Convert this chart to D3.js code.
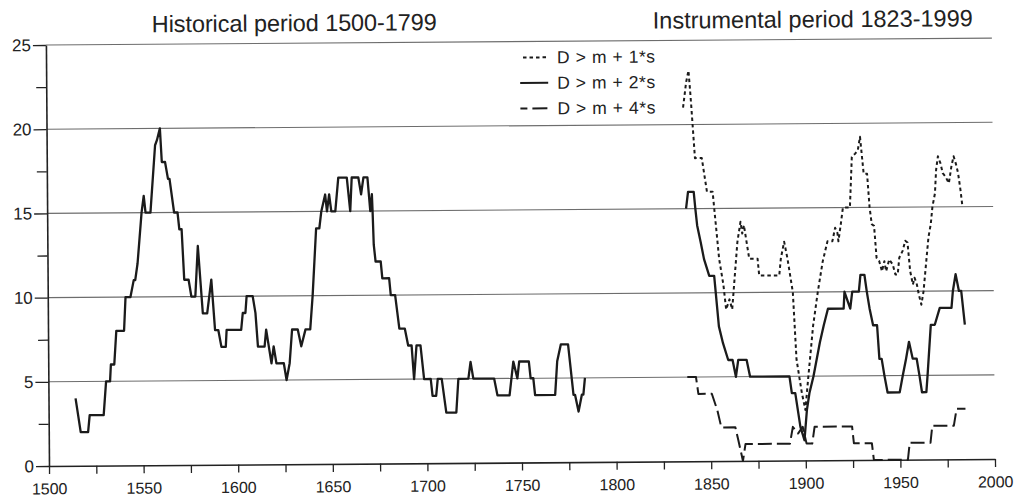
<!DOCTYPE html>
<html>
<head>
<meta charset="utf-8">
<script src="https://d3js.org/d3.v7.min.js"></script>
<style>
body { margin: 0; background: #fff; }
svg text { font-family: "Liberation Sans", Arial, Helvetica, sans-serif; fill: #222; }
</style>
</head>
<body>
<div id="chart"></div>
<script>
var width = 1016;
var height = 498;

// Historical period, D > m + 2*s
var histYears = [1514.3, 1516.9, 1520.8, 1521.7, 1529.1, 1530.5, 1532.6, 1533.1, 1534.9, 1536.1,
    1540.2, 1541.1, 1543.7, 1545.5, 1546.3, 1547.6, 1549.9, 1551.1, 1552.0, 1554.6,
    1557.3, 1558.3, 1559.9, 1560.8, 1562.5, 1564.0, 1564.8, 1567.1, 1568.9, 1569.8,
    1571.0, 1572.2, 1574.5, 1575.9, 1578.0, 1579.5, 1581.9, 1584.2, 1586.5, 1588.3,
    1590.0, 1591.6, 1593.9, 1594.4, 1602.1, 1603.0, 1604.4, 1605.1, 1608.3, 1609.7,
    1610.9, 1614.4, 1615.3, 1618.0, 1619.2, 1620.6, 1624.5, 1625.9, 1627.6, 1629.0,
    1632.0, 1633.8, 1636.1, 1638.6, 1640.0, 1642.1, 1643.8, 1644.9, 1647.0, 1647.9,
    1649.1, 1650.2, 1652.3, 1654.0, 1658.5, 1660.2, 1661.1, 1664.6, 1666.0, 1667.3,
    1669.4, 1670.8, 1671.7, 1672.0, 1672.5, 1673.4, 1676.1, 1676.9, 1680.5, 1681.3,
    1683.6, 1685.7, 1688.6, 1690.3, 1692.1, 1693.3, 1694.7, 1696.8, 1698.6, 1702.1,
    1703.0, 1704.9, 1705.8, 1707.9, 1710.2, 1715.5, 1716.7, 1722.0, 1723.2, 1724.6,
    1735.6, 1737.3, 1743.7, 1745.8, 1747.9, 1748.9, 1754.0, 1754.9, 1756.3, 1757.2,
    1767.8, 1769.0, 1771.0, 1774.8, 1777.5, 1778.3, 1780.1, 1781.9, 1782.7, 1783.6];
var histValues = [4, 2, 2, 3, 3, 5, 5, 6, 6, 8,
    8, 10, 10, 11, 11, 12, 15, 16, 15, 15,
    19, 19.3, 20, 18, 18, 17, 17, 15, 15, 14,
    14, 11, 11, 10, 10, 13, 9, 9, 11, 8,
    8, 7, 7, 8, 8, 9, 9, 10, 10, 9,
    7, 7, 8, 6, 7, 6, 6, 5, 6, 8,
    8, 7, 8, 8, 10, 14, 14, 15, 16, 15,
    16, 15, 15, 17, 17, 15, 17, 17, 16, 17,
    17, 15, 16, 15, 13, 12, 12, 11, 11, 10,
    10, 8, 8, 7, 7, 5, 7, 7, 5, 5,
    4, 4, 5, 5, 3, 3, 5, 5, 6, 5,
    5, 4, 4, 6, 5, 6, 6, 5, 5, 4,
    4, 6, 7, 7, 4, 4, 3, 4, 4, 5];

// Instrumental period, D > m + 1*s (dotted)
var inst1Years = [1836.5, 1838.2, 1839.5, 1840.3, 1840.9, 1842.6, 1846.2, 1848.8, 1851.8, 1855.0,
    1857.1, 1858.5, 1860.3, 1861.7, 1864.7, 1866.4, 1867.3, 1868.2, 1870.9, 1875.3,
    1876.1, 1886.7, 1887.6, 1889.4, 1891.1, 1893.8, 1895.5, 1898.2, 1900.0, 1901.7,
    1904.4, 1907.0, 1909.7, 1912.3, 1914.9, 1916.4, 1917.6, 1918.1, 1919.4, 1920.6,
    1924.3, 1925.5, 1927.3, 1928.7, 1929.9, 1931.7, 1933.5, 1934.7, 1935.8, 1937.0,
    1938.2, 1939.6, 1941.0, 1942.3, 1943.2, 1944.9, 1946.7, 1948.1, 1949.3, 1950.2,
    1952.0, 1953.4, 1954.6, 1955.9, 1957.3, 1958.2, 1959.4, 1960.4, 1961.7, 1962.9,
    1964.3, 1965.7, 1967.0, 1967.9, 1969.3, 1970.0, 1971.0, 1972.3, 1973.5, 1974.9,
    1976.7, 1978.1, 1979.3, 1980.6, 1981.6, 1982.8, 1983.7];
var inst1Values = [21, 22.5, 23.2, 22, 21, 18, 18, 16, 16, 12,
    10.5, 9, 9.6, 9, 13, 14.2, 13.5, 14, 12, 12,
    11, 11, 12, 13, 12, 10, 6, 4, 3, 5,
    8, 10, 11.8, 13, 13, 13.8, 13.5, 13, 14, 15,
    15, 18, 18.2, 18.4, 19.2, 17, 17, 15, 14, 13.9,
    12, 11.8, 11.2, 11.8, 11.2, 11.9, 11.6, 11, 11, 12,
    12.4, 13, 12.9, 11.2, 10.4, 10.8, 10.4, 9.8, 9.2, 10,
    11.6, 13.2, 14, 15, 15.8, 17.2, 18, 17.6, 17, 16.8,
    16.4, 17.4, 18, 17.5, 17, 16, 15.1];

// Instrumental period, D > m + 2*s (solid)
var inst2Years = [1837.7, 1838.8, 1841.8, 1842.6, 1843.5, 1845.3, 1847.0, 1849.7, 1852.3, 1854.6,
    1856.7, 1859.4, 1861.7, 1863.4, 1864.7, 1869.1, 1870.9, 1891.7, 1892.9, 1894.7,
    1897.3, 1899.4, 1900.8, 1902.2, 1904.4, 1907.9, 1910.0, 1912.3, 1920.6, 1921.1,
    1924.1, 1925.2, 1928.7, 1929.6, 1931.7, 1932.9, 1934.3, 1936.1, 1938.2, 1939.3,
    1940.5, 1941.9, 1943.5, 1949.9, 1951.6, 1953.4, 1955.0, 1956.9, 1959.0, 1960.4,
    1961.7, 1964.0, 1964.7, 1966.6, 1968.7, 1971.4, 1977.6, 1978.4, 1979.9, 1981.6,
    1982.8, 1984.6];
var inst2Values = [15, 16, 16, 15, 14, 13, 12, 11, 11, 8,
    7, 6, 6, 5, 6, 6, 5, 5, 4, 4,
    2, 1.2, 3, 4, 5, 7, 8, 9, 9, 10,
    9, 10, 10, 11, 11, 10, 9, 8, 8, 6,
    6, 5, 4, 4, 5, 6, 7, 6, 6, 5,
    4, 4, 5, 8, 8, 9, 9, 10, 11, 10,
    10, 8];

// Instrumental period, D > m + 4*s (dashed)
var inst4Years = [1837.7, 1842.3, 1843.5, 1850.6, 1853.5, 1855.5, 1862.9, 1864.5, 1866.8, 1868.2,
    1891.7, 1893.3, 1896.0, 1898.5, 1900.5, 1903.5, 1904.8, 1924.6, 1925.5, 1935.0,
    1936.0, 1954.0, 1955.0, 1966.0, 1967.0, 1978.4, 1979.9, 1984.6];
var inst4Values = [5, 5, 4, 4, 3, 2, 2, 1.2, 0, 1,
    1, 2, 1.6, 2, 1, 1, 2, 2, 1, 1,
    0, 0, 1, 1, 2, 2, 3, 3];

var seriesNames = ["D > m + 1*s", "D > m + 2*s", "D > m + 4*s"];
var dashes = ["3.5,3", null, "14,5"];
var legendDashes = ["3.5,3", null, "7,5,15"];
var periodTitles = ["Historical period 1500-1799", "Instrumental period 1823-1999"];

var xTicks = [1500, 1550, 1600, 1650, 1700, 1750, 1800, 1850, 1900, 1950, 2000];
var xMinor = [1525, 1575, 1625, 1675, 1725, 1775, 1825, 1875, 1925, 1975];
var yTicks = [0, 5, 10, 15, 20, 25];
var yMinor = [2.5, 7.5, 12.5, 17.5, 22.5];
var gridValues = [5, 10, 15, 20, 25];

var x = d3.scaleLinear().domain([1500, 2000]).range([49, 995]);
var y = d3.scaleLinear().domain([0, 25]).range([466, 45]);

var svg = d3.select("#chart")
    .append("svg")
    .attr("width", width)
    .attr("height", height);

// the scanned original is tilted a little, so is this
var g = svg.append("g").attr("transform", "rotate(-0.42,49,466)");

/**
 * Pairs up a years array with a values array.
 */
function points(years, values) {
    return years.map(function (yr, i) {
        return { year: yr, value: values[i] };
    });
}

g.selectAll("line.grid")
    .data(gridValues)
    .enter()
    .append("line")
    .attr("class", "grid")
    .attr("x1", x(1500))
    .attr("x2", x(2000))
    .attr("y1", function (d) { return y(d); })
    .attr("y2", function (d) { return y(d); })
    .attr("stroke", "#6d6d6d")
    .attr("stroke-width", 1.1);

// y axis, labelled and minor ticks
var yAxis = g.append("g")
    .attr("transform", "translate(" + x(1500) + ",0)")
    .call(d3.axisLeft(y).tickValues(yTicks).tickSize(13).tickSizeOuter(0).tickPadding(2));
g.append("g")
    .attr("transform", "translate(" + x(1500) + ",0)")
    .call(d3.axisLeft(y).tickValues(yMinor).tickSize(10).tickFormat(""))
    .select(".domain").remove();

// x axis
var xAxis = g.append("g")
    .attr("transform", "translate(0," + y(0) + ")")
    .call(d3.axisBottom(x).tickValues(xTicks).tickFormat(d3.format("d"))
        .tickSize(8).tickSizeOuter(0).tickPadding(9));
g.append("g")
    .attr("transform", "translate(0," + y(0) + ")")
    .call(d3.axisBottom(x).tickValues(xMinor).tickSize(8).tickFormat(""))
    .select(".domain").remove();

g.selectAll(".domain").attr("stroke", "#222").attr("stroke-width", 1.6);
g.selectAll(".tick line").attr("stroke", "#222").attr("stroke-width", 1.3);
yAxis.selectAll("text").attr("font-size", "17px").attr("fill", "#222");
xAxis.selectAll("text").attr("font-size", "16px").attr("fill", "#222");

// the data lines
var line = d3.line()
    .x(function (d) { return x(d.year); })
    .y(function (d) { return y(d.value); });

var series = [
    { pts: points(histYears, histValues), dash: dashes[1] },
    { pts: points(inst1Years, inst1Values), dash: dashes[0] },
    { pts: points(inst2Years, inst2Values), dash: dashes[1] },
    { pts: points(inst4Years, inst4Values), dash: dashes[2] }
];

g.selectAll("path.series")
    .data(series)
    .enter()
    .append("path")
    .attr("class", "series")
    .attr("d", function (d) { return line(d.pts); })
    .attr("fill", "none")
    .attr("stroke", "#1b1b1b")
    .attr("stroke-width", function (d) { return d.dash ? 2 : 2.3; })
    .attr("stroke-dasharray", function (d) { return d.dash; })
    .attr("stroke-linejoin", "round");

// titles over the two periods
g.selectAll("text.title")
    .data(periodTitles)
    .enter()
    .append("text")
    .attr("class", "title")
    .attr("x", function (d, i) { return i === 0 ? 155 : 656; })
    .attr("y", 33)
    .attr("font-size", "23.5px")
    .attr("textLength", function (d, i) { return i === 0 ? 285 : 320; })
    .text(function (d) { return d; });

// legend
var legend = g.selectAll("g.legend")
    .data(seriesNames)
    .enter()
    .append("g")
    .attr("class", "legend")
    .attr("transform", function (d, i) { return "translate(0," + (61 + i * 25.5) + ")"; });

legend.append("line")
    .attr("x1", function (d, i) { return i === 0 ? 526 : 523; })
    .attr("x2", 551)
    .attr("stroke", "#1b1b1b")
    .attr("stroke-width", 2)
    .attr("stroke-dasharray", function (d, i) { return legendDashes[i]; });

legend.append("text")
    .attr("x", 560)
    .attr("y", 6)
    .attr("font-size", "17.5px")
    .attr("textLength", 98)
    .text(function (d) { return d; });
</script>
</body>
</html>
